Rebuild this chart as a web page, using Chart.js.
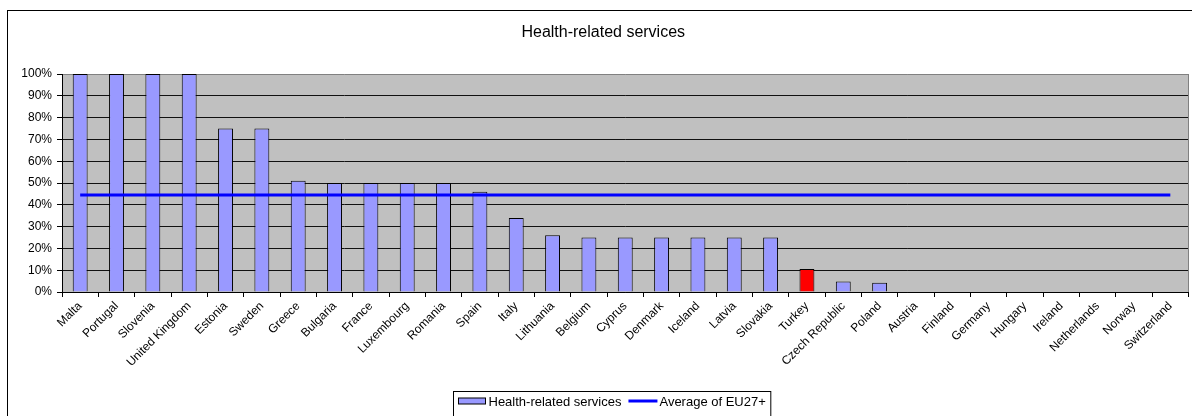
<!DOCTYPE html>
<html>
<head>
<meta charset="utf-8">
<script src="https://cdn.jsdelivr.net/npm/chart.js@4/dist/chart.umd.min.js"></script>
<style>
    html, body { margin: 0; padding: 0; background: #fff; }
    #wrap { width: 1192px; height: 416px; }
</style>
</head>
<body>
<div id="wrap"><canvas id="healthChart" width="1192" height="416"></canvas></div>
<script>
const countries = [
    "Malta", "Portugal", "Slovenia", "United Kingdom", "Estonia", "Sweden",
    "Greece", "Bulgaria", "France", "Luxembourg", "Romania", "Spain", "Italy",
    "Lithuania", "Belgium", "Cyprus", "Denmark", "Iceland", "Latvia",
    "Slovakia", "Turkey", "Czech Republic", "Poland", "Austria", "Finland",
    "Germany", "Hungary", "Ireland", "Netherlands", "Norway", "Switzerland",
];
const healthShare = [
    100, 100, 100, 100, 75, 75,
    51, 50, 50, 50, 50, 46, 34,
    26, 25, 25, 25, 25, 25,
    25, 10.5, 4.8, 4.3, 0, 0,
    0, 0, 0, 0, 0, 0,
];
const euAverage = [
    44.5, 44.5, 44.5, 44.5, 44.5, 44.5,
    44.5, 44.5, 44.5, 44.5, 44.5, 44.5, 44.5,
    44.5, 44.5, 44.5, 44.5, 44.5, 44.5,
    44.5, 44.5, 44.5, 44.5, 44.5, 44.5,
    44.5, 44.5, 44.5, 44.5, 44.5, 44.5,
];
const yTicks = [0, 10, 20, 30, 40, 50, 60, 70, 80, 90, 100];

const FONT = "'Liberation Sans', Arial, sans-serif";
const barFill = countries.map((c) => (c === "Turkey" ? "#ff0000" : "#9999ff"));

// grey plot background, outer frame and the boxed legend
const framePlugin = {
    id: "frame",
    beforeDraw(chart) {
        const { ctx, chartArea: a } = chart;
        ctx.save();
        ctx.fillStyle = "#ffffff";
        ctx.fillRect(0, 0, chart.width, chart.height);
        ctx.fillStyle = "#c0c0c0";
        ctx.fillRect(a.left, a.top, a.right - a.left, a.bottom - a.top);
        ctx.restore();
    },
    afterDraw(chart) {
        const { ctx, chartArea: a } = chart;
        ctx.save();
        ctx.strokeStyle = "#808080";
        ctx.lineWidth = 1;
        ctx.beginPath();
        ctx.moveTo(Math.round(a.right) - 0.5, a.top);
        ctx.lineTo(Math.round(a.right) - 0.5, a.bottom);
        ctx.stroke();

        ctx.strokeStyle = "#000";
        ctx.strokeRect(7.5, 10.5, 1200, 420);

        // legend
        const ds = chart.data.datasets;
        ctx.font = "13px " + FONT;
        const t1 = ctx.measureText(ds[0].label).width;
        const t2 = ctx.measureText(ds[1].label).width;
        const boxW = 5 + 27 + 3 + t1 + 7 + 29 + 2 + t2 + 5;
        const lx = Math.round(612 - boxW / 2) + 0.5;
        const ly = 391.5;
        const my = 401;
        ctx.fillStyle = "#fff";
        ctx.fillRect(lx, ly, boxW, 40);
        ctx.strokeStyle = "#000";
        ctx.strokeRect(lx, ly, boxW, 40);

        let x = lx + 5;
        ctx.fillStyle = "#9999ff";
        ctx.fillRect(x, my - 3, 27, 6);
        ctx.strokeRect(x, my - 3, 27, 6);
        x += 30;
        ctx.fillStyle = "#000";
        ctx.textBaseline = "middle";
        ctx.fillText(ds[0].label, x, my + 1);
        x += t1 + 7;
        ctx.strokeStyle = "#0000ff";
        ctx.lineWidth = 3;
        ctx.beginPath();
        ctx.moveTo(x, my);
        ctx.lineTo(x + 29, my);
        ctx.stroke();
        x += 31;
        ctx.fillText(ds[1].label, x, my + 1);
        ctx.restore();
    },
};

new Chart(document.getElementById("healthChart").getContext("2d"), {
    data: {
        labels: countries,
        datasets: [
            {
                type: "bar",
                label: "Health-related services",
                data: healthShare,
                backgroundColor: barFill,
                borderColor: "#000",
                borderWidth: 1,
                barPercentage: 0.41,
                categoryPercentage: 1,
                order: 2,
            },
            {
                type: "line",
                label: "Average of EU27+",
                data: euAverage,
                borderColor: "#0000ff",
                borderWidth: 3,
                pointRadius: 0,
                fill: false,
                order: 1,
            },
        ],
    },
    options: {
        responsive: false,
        animation: false,
        layout: { padding: { left: 18, right: 3.5, top: 0, bottom: 24 } },
        plugins: {
            legend: { display: false },
            tooltip: { enabled: false },
            title: {
                display: true,
                text: "Health-related services",
                color: "#000",
                font: { family: FONT, size: 16, weight: "normal", lineHeight: 1.2 },
                padding: { top: 23, bottom: 31.8 },
            },
        },
        scales: {
            x: {
                afterFit(scale) {
                    scale.height = 100;
                },
                grid: {
                    offset: true,
                    drawOnChartArea: false,
                    drawTicks: true,
                    tickLength: 5,
                    tickColor: "#000",
                },
                border: { color: "#000" },
                ticks: {
                    autoSkip: false,
                    minRotation: 45,
                    maxRotation: 45,
                    padding: 2,
                    color: "#000",
                    font: { family: FONT, size: 12 },
                },
            },
            y: {
                min: 0,
                max: 100,
                afterFit(scale) {
                    scale.width = 44;
                },
                afterBuildTicks(scale) {
                    scale.ticks = yTicks.map((v) => ({ value: v }));
                },
                grid: {
                    color: (ctx) => (ctx.tick && ctx.tick.value === 100 ? "#808080" : "#111"),
                    tickLength: 5,
                    tickColor: "#000",
                },
                border: { color: "#000" },
                ticks: {
                    padding: 5,
                    color: "#000",
                    font: { family: FONT, size: 12 },
                    callback: (v) => v + "%",
                },
            },
        },
    },
    plugins: [framePlugin],
});
</script>
</body>
</html>
